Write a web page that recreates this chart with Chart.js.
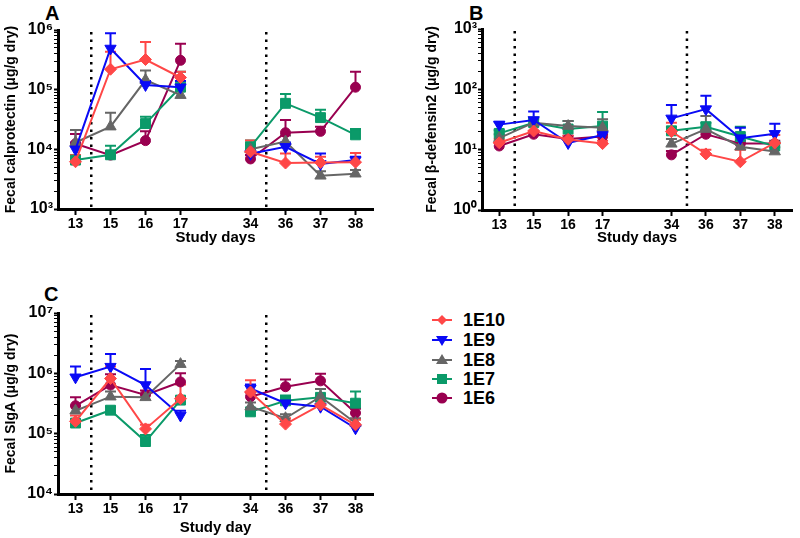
<!DOCTYPE html>
<html>
<head>
<meta charset="utf-8">
<script src="https://cdn.jsdelivr.net/npm/chart.js@4"></script>
<style>
  body { margin: 0; width: 800px; height: 538px; position: relative; overflow: hidden; background: #fff;
         font-family: Arial, "Liberation Sans", sans-serif; }
  canvas { position: absolute; }
  .letter { position: absolute; font-weight: bold; font-size: 20px; line-height: 20px; }
  .lg { position: absolute; height: 16px; }
  .lg svg { position: absolute; left: 0; top: 0; }
  .lg span { position: absolute; left: 32px; top: -3px; font-weight: bold; font-size: 18px; line-height: 20px; }
</style>
</head>
<body>
<div class="letter" style="left:45px;top:3px">A</div>
<div class="letter" style="left:469px;top:3px">B</div>
<div class="letter" style="left:44px;top:284px">C</div>
<canvas id="chartA" width="385" height="247" style="left:0;top:0"></canvas>
<canvas id="chartB" width="385" height="247" style="left:415px;top:0"></canvas>
<canvas id="chartC" width="385" height="267" style="left:0;top:270px"></canvas>
<div id="legend"></div>
<script>
// x categories (blank slot = break between study phases)
const days = ['13', '15', '16', '17', '', '34', '36', '37', '38'];
const groups = ['1E10', '1E9', '1E8', '1E7', '1E6'];

// A: fecal calprotectin, means and upper error ends
const calp1E10 = [6.2e3, 2.2e5, 3.2e5, 1.6e5, null, 9.1e3, 5.9e3, 6.0e3, 6.1e3];
const calp1E9  = [1.0e4, 4.9e5, 1.2e5, 1.1e5, null, 8.4e3, 1.1e4, 5.7e3, 6.6e3];
const calp1E8  = [1.3e4, 2.4e4, 1.45e5, 8.1e4, null, 1.0e4, 1.35e4, 3.6e3, 3.9e3];
const calp1E7  = [6.6e3, 8.1e3, 2.7e4, 1.1e5, null, 1.1e4, 5.9e4, 3.4e4, 1.75e4];
const calp1E6  = [1.24e4, 8.0e3, 1.4e4, 3.1e5, null, 6.9e3, 1.9e4, 2.0e4, 1.1e5];
const calp1E10Err = [8.0e3, 4.3e5, 6.3e5, 2.0e5, null, 1.4e4, 8.5e3, 7.5e3, 8.7e3];
const calp1E9Err  = [1.3e4, 8.8e5, 1.4e5, 1.4e5, null, 1.0e4, 1.3e4, 8.5e3, 7.5e3];
const calp1E8Err  = [2.1e4, 4.1e4, 2.1e5, 9.5e4, null, 1.2e4, 1.7e4, 4.3e3, 4.5e3];
const calp1E7Err  = [8.0e3, 1.15e4, 3.5e4, 2.0e5, null, 1.4e4, 8.5e4, 4.6e4, 2.2e4];
const calp1E6Err  = [1.8e4, 9.0e3, 2.0e4, 5.9e5, null, 8.0e3, 3.1e4, 2.4e4, 2.0e5];

// B: fecal beta-defensin2
const bd1E10 = [13, 20.4, 14.8, 12.6, null, 20, 8.5, 6.3, 12.9];
const bd1E9  = [26, 31, 12.9, 17.5, null, 33, 47, 15.5, 18.3];
const bd1E8  = [15.5, 28, 24.6, 23, null, 12.5, 22, 11.2, 9.3];
const bd1E7  = [18.6, 28, 22, 24.6, null, 20.5, 24, 16.5, 11.5];
const bd1E6  = [11.5, 18, 15, 16.5, null, 8.2, 18, 12.6, 12.6];
const bd1E10Err = [15, 25, 17, 14, null, 28, 10, 10, 17.5];
const bd1E9Err  = [29, 43, 15, 20, null, 55, 78, 23, 27];
const bd1E8Err  = [18, 32, 30, 32, null, 15, 36, 13, 11];
const bd1E7Err  = [21, 34, 30, 42, null, 24, 28, 24, 13];
const bd1E6Err  = [13, 20, 17, 18, null, 9.5, 21, 14, 14];

// C: fecal SIgA
const siga1E10 = [1.6e5, 8.2e5, 1.2e5, 3.8e5, null, 4.9e5, 1.44e5, 3.0e5, 1.4e5];
const siga1E9  = [8.6e5, 1.29e6, 6.4e5, 2.0e5, null, 5.6e5, 3.2e5, 2.8e5, 1.23e5];
const siga1E8  = [2.4e5, 4.1e5, 4.0e5, 1.42e6, null, 2.8e5, 1.8e5, 4.1e5, 1.5e5];
const siga1E7  = [1.5e5, 2.45e5, 7.4e4, 3.6e5, null, 2.3e5, 3.5e5, 4.0e5, 3.2e5];
const siga1E6  = [2.9e5, 6.4e5, 4.4e5, 7.2e5, null, 4.1e5, 6.0e5, 7.5e5, 2.2e5];
const siga1E10Err = [2.0e5, 1.3e6, 1.4e5, 6.5e5, null, 7.7e5, 1.8e5, 3.8e5, 1.7e5];
const siga1E9Err  = [1.3e6, 2.1e6, 1.18e6, 2.4e5, null, 6.5e5, 4.0e5, 3.5e5, 1.4e5];
const siga1E8Err  = [2.9e5, 5.0e5, 4.6e5, 1.6e6, null, 3.3e5, 2.1e5, 5.5e5, 1.8e5];
const siga1E7Err  = [1.7e5, 2.8e5, 9.5e4, 4.0e5, null, 2.6e5, 4.3e5, 5.5e5, 5.0e5];
const siga1E6Err  = [4.0e5, 9.7e5, 5.2e5, 1.0e6, null, 4.8e5, 7.9e5, 9.8e5, 2.6e5];

// phase boundaries (in category units)
const phaseBreaks = [0.45, 5.45];

const colors = ['#ff4747', '#0a0af5', '#666666', '#0b9a69', '#990050'];
const shapes = ['rectRot', 'triangle', 'triangle', 'rect', 'circle'];
const radii = [6, 6.5, 6.5, 7, 5];
const rotations = [0, 180, 0, 0, 0];

Chart.defaults.font.family = 'Arial, "Liberation Sans", sans-serif';
Chart.defaults.color = '#000';

const sup = { '0': '⁰', '1': '¹', '2': '²', '3': '³', '4': '⁴', '5': '⁵', '6': '⁶', '7': '⁷' };

const errorBars = {
  id: 'errorBars',
  beforeDatasetsDraw(chart) {
    const { ctx, scales: { x, y } } = chart;
    ctx.save();
    // dotted phase lines
    ctx.strokeStyle = '#000';
    ctx.lineWidth = 2.5;
    ctx.setLineDash([2.5, 5]);
    phaseBreaks.forEach(b => {
      const px = x.getPixelForValue(b);
      ctx.beginPath();
      ctx.moveTo(px, chart.chartArea.top + 2);
      ctx.lineTo(px, chart.chartArea.bottom);
      ctx.stroke();
    });
    ctx.setLineDash([]);
    ctx.lineWidth = 2;
    for (let d = chart.data.datasets.length - 1; d >= 0; d--) {
      const ds = chart.data.datasets[d];
      ctx.strokeStyle = ds.borderColor;
      ds.data.forEach((v, i) => {
        const top = ds.errTop[i];
        if (v == null || top == null) return;
        const px = x.getPixelForValue(i);
        const y0 = y.getPixelForValue(v);
        const y1 = y.getPixelForValue(top);
        ctx.beginPath();
        ctx.moveTo(px, y0);
        ctx.lineTo(px, y1);
        ctx.moveTo(px - 5.5, y1);
        ctx.lineTo(px + 5.5, y1);
        ctx.stroke();
      });
    }
    ctx.restore();
  }
};

function makePanel(id, means, errs, yTitle, xTitle, lo, hi, lay) {
  const datasets = groups.map((g, i) => ({
    label: g,
    data: means[i],
    errTop: errs[i],
    borderColor: colors[i],
    backgroundColor: colors[i],
    borderWidth: 2,
    pointStyle: shapes[i],
    pointRadius: radii[i],
    pointRotation: rotations[i],
    pointBorderWidth: 1,
    spanGaps: false,
    tension: 0
  }));
  return new Chart(document.getElementById(id), {
    type: 'line',
    data: { labels: days, datasets },
    plugins: [errorBars],
    options: {
      responsive: false,
      animation: false,
      layout: { padding: lay.pad },
      plugins: { legend: { display: false }, tooltip: { enabled: false } },
      scales: {
        x: {
          type: 'category',
          offset: true,
          border: { color: '#000', width: 3 },
          grid: {
            drawOnChartArea: false, drawTicks: true, tickLength: 6, tickWidth: 2,
            tickColor: c => (days[c.index] === '' ? 'rgba(0,0,0,0)' : '#000')
          },
          ticks: { font: { size: 14, weight: 'bold' }, padding: 1, maxRotation: 0, autoSkip: false },
          title: { display: true, text: xTitle, font: { size: 15, weight: 'bold' }, padding: 0 },
          afterFit: s => { s.height = lay.xh; }
        },
        y: {
          type: 'logarithmic',
          min: 10 ** lo,
          max: 10 ** hi,
          border: { color: '#000', width: 3 },
          grid: {
            drawOnChartArea: false, drawTicks: true, tickLength: 4,
            tickWidth: c => (c.tick && c.tick.major ? 2 : 1),
            tickColor: '#000'
          },
          afterBuildTicks: s => {
            const t = [];
            for (let e = lo; e < hi; e++) {
              for (let m = 1; m < 10; m++) t.push({ value: m * 10 ** e, major: m === 1 });
            }
            t.push({ value: 10 ** hi, major: true });
            s.ticks = t;
          },
          ticks: {
            autoSkip: false,
            padding: 1,
            font: { size: 16, weight: 'bold' },
            callback: v => {
              const e = Math.log10(v);
              return Math.abs(e - Math.round(e)) < 1e-9 ? '10' + sup[String(Math.round(e))] : '';
            }
          },
          title: { display: true, text: yTitle, font: { size: 14, weight: 'bold' }, padding: 0 },
          afterFit: s => { s.width = lay.yw; }
        }
      }
    }
  });
}

makePanel('chartA',
  [calp1E10, calp1E9, calp1E8, calp1E7, calp1E6],
  [calp1E10Err, calp1E9Err, calp1E8Err, calp1E7Err, calp1E6Err],
  'Fecal calprotectin (μg/g dry)', 'Study days', 3, 6,
  { pad: { left: 3, top: 30, right: 12, bottom: 0 }, yw: 55, xh: 38 });

makePanel('chartB',
  [bd1E10, bd1E9, bd1E8, bd1E7, bd1E6],
  [bd1E10Err, bd1E9Err, bd1E8Err, bd1E7Err, bd1E6Err],
  'Fecal β-defensin2 (μg/g dry)', 'Study days', 0, 3,
  { pad: { left: 9, top: 29, right: 3, bottom: 0 }, yw: 58, xh: 37 });

makePanel('chartC',
  [siga1E10, siga1E9, siga1E8, siga1E7, siga1E6],
  [siga1E10Err, siga1E9Err, siga1E8Err, siga1E7Err, siga1E6Err],
  'Fecal SIgA (μg/g dry)', 'Study day', 4, 7,
  { pad: { left: 3, top: 43, right: 12, bottom: 0 }, yw: 55, xh: 43 });

// legend
const legendRows = [320, 340, 360, 379, 398];
const markerSvg = [
  '<polygon points="11,2 16,7 11,12 6,7"/>',
  '<polygon points="5,3 17,3 11,13"/>',
  '<polygon points="11,1 17,11 5,11"/>',
  '<rect x="6" y="2" width="10" height="10"/>',
  '<circle cx="11" cy="7" r="5.5"/>'
];
const lg = document.getElementById('legend');
groups.forEach((g, i) => {
  const row = document.createElement('div');
  row.className = 'lg';
  row.style.left = '431px';
  row.style.top = (legendRows[i] - 7) + 'px';
  row.innerHTML = '<svg width="24" height="14"><line x1="1" y1="7" x2="21" y2="7" stroke="' + colors[i] +
    '" stroke-width="2"/><g fill="' + colors[i] + '">' + markerSvg[i] + '</g></svg><span>' + g + '</span>';
  lg.appendChild(row);
});
</script>
</body>
</html>
